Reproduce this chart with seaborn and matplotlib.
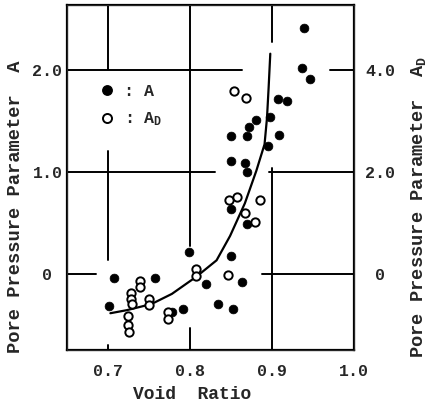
import numpy as np
import pandas as pd
import matplotlib
matplotlib.use("Agg")
import matplotlib.pyplot as plt
from matplotlib.lines import Line2D
import seaborn as sns

# void ratio / pore pressure parameter A (filled dots)
void_a = [0.701, 0.707, 0.757, 0.778, 0.791, 0.799, 0.819, 0.834, 0.850, 0.852,
          0.863, 0.850, 0.869, 0.870, 0.939, 0.937, 0.946, 0.908, 0.918, 0.881,
          0.898, 0.872, 0.850, 0.869, 0.909, 0.895, 0.850, 0.867]
a_vals = [-0.32, -0.04, -0.04, -0.38, -0.35, 0.21, -0.10, -0.30, 0.17, -0.35,
          -0.08, 0.63, 0.49, 1.00, 2.41, 2.02, 1.91, 1.71, 1.70, 1.51,
          1.54, 1.44, 1.35, 1.35, 1.36, 1.25, 1.11, 1.09]

# void ratio / A_D (open circles, right axis)
void_ad = [0.739, 0.739, 0.728, 0.728, 0.729, 0.725, 0.725, 0.726, 0.750, 0.750,
           0.773, 0.773, 0.808, 0.808, 0.846, 0.848, 0.858, 0.885, 0.867, 0.879,
           0.854, 0.868]
ad_vals = [-0.14, -0.26, -0.38, -0.50, -0.60, -0.84, -1.02, -1.14, -0.50, -0.62,
           -0.76, -0.90, 0.08, -0.04, -0.02, 1.44, 1.50, 1.44, 1.18, 1.02,
           3.58, 3.44]

# fitted curve (A scale)
curve_x = [0.703, 0.723, 0.753, 0.778, 0.808, 0.8325, 0.849, 0.867, 0.881, 0.891,
           0.894, 0.896, 0.898]
curve_a = [-0.39, -0.36, -0.30, -0.20, -0.03, 0.13, 0.37, 0.69, 1.01, 1.27,
           1.53, 1.83, 2.16]

x_ticks = [0.7, 0.8, 0.9, 1.0]
a_ticks = [0, 1.0, 2.0]
ad_ticks = [0, 2.0, 4.0]

df_a = pd.DataFrame({"void": void_a, "A": a_vals})
df_ad = pd.DataFrame({"void": void_ad, "AD": ad_vals})
df_curve = pd.DataFrame({"void": curve_x, "A": curve_a})

sns.set_style("white")
plt.rcParams["font.family"] = ["Liberation Mono", "DejaVu Sans"]
plt.rcParams["font.weight"] = "bold"
plt.rcParams["mathtext.fontset"] = "custom"
plt.rcParams["mathtext.rm"] = "Liberation Mono:bold"
plt.rcParams["mathtext.it"] = "Liberation Mono:bold"
plt.rcParams["mathtext.bf"] = "Liberation Mono:bold"

fig = plt.figure(figsize=(4.29, 4.04), dpi=100)
ax = fig.add_axes([0.156, 0.134, 0.669, 0.854])
ax2 = ax.twinx()

ax.set_xlim(0.65, 1.0)
ax.set_ylim(-0.75, 2.64)
ax2.set_ylim(-1.5, 5.28)

# broken grid lines like the original drawing
hsegs = {2.0: [(0, 0.61), (0.916, 1)], 1.0: [(0, 0.516), (0.704, 1)], 0: [(0, 0.10), (0.68, 1)]}
vsegs = {0.7: [(0.814, 1), (0.26, 0.577), (0, 0.015)], 0.8: [(0.30, 1), (0, 0.064)],
         0.9: [(0.893, 1), (0, 0.528)]}
for yv, segs in hsegs.items():
    for a, b in segs:
        ax.axhline(yv, a, b, color="black", lw=1.4, zorder=1)
for xv, segs in vsegs.items():
    for a, b in segs:
        ax.axvline(xv, a, b, color="black", lw=1.4, zorder=1)

sns.lineplot(data=df_curve, x="void", y="A", ax=ax, color="black", lw=1.6,
             sort=False, estimator=None, zorder=2)
sns.scatterplot(data=df_a, x="void", y="A", ax=ax, color="black", s=40,
                edgecolor="black", linewidth=0.5, zorder=3)
sns.scatterplot(data=df_ad, x="void", y="AD", ax=ax2, facecolor="white", s=36,
                edgecolor="black", linewidth=1.4, zorder=3)

ax.set_xticks(x_ticks)
ax.set_xticklabels(["0.7", "0.8", "0.9", "1.0"])
ax.set_yticks(a_ticks)
ax.set_yticklabels(["0", "1.0", "2.0"])
ax2.set_yticks(ad_ticks)
ax2.set_yticklabels(["0", "2.0", "4.0"])
ax.tick_params(axis="x", length=0, pad=10, labelsize=12)
ax.tick_params(axis="y", length=0, pad=14, labelsize=12)
ax2.tick_params(axis="y", length=0, pad=19, labelsize=12)
for t in ax.get_yticklabels() + ax2.get_yticklabels():
    t.set_horizontalalignment("center")

for s in ax.spines.values():
    s.set_linewidth(1.6)
    s.set_color("black")

ax.set_xlabel("Void  Ratio", fontsize=13, fontweight="bold")
ax.xaxis.set_label_coords(0.436, -0.13)
ax.xaxis.label.set_va("center")
ax.set_ylabel("Pore Pressure Parameter  A", fontsize=13.5, fontweight="bold")
ax.yaxis.set_label_coords(-0.18, 0.415)
ax.yaxis.label.set_va("center")
ax2.set_ylabel("Pore Pressure Parameter  $A_D$", fontsize=13.5, fontweight="bold")
ax2.yaxis.set_label_coords(1.225, 0.415)
ax2.yaxis.label.set_va("center")
ax2.yaxis.label.set_rotation(90)

handles = [Line2D([], [], marker="o", ls="", color="black", markersize=6.8),
           Line2D([], [], marker="o", ls="", markerfacecolor="white",
                  markeredgecolor="black", markeredgewidth=1.4, markersize=6.5)]
ax.legend(handles, [": A", r": $A_D$"], loc="upper left", bbox_to_anchor=(0.03, 0.815),
          frameon=False, fontsize=12, handletextpad=0.0, labelspacing=0.7)

fig.savefig("out.png", dpi=100)
